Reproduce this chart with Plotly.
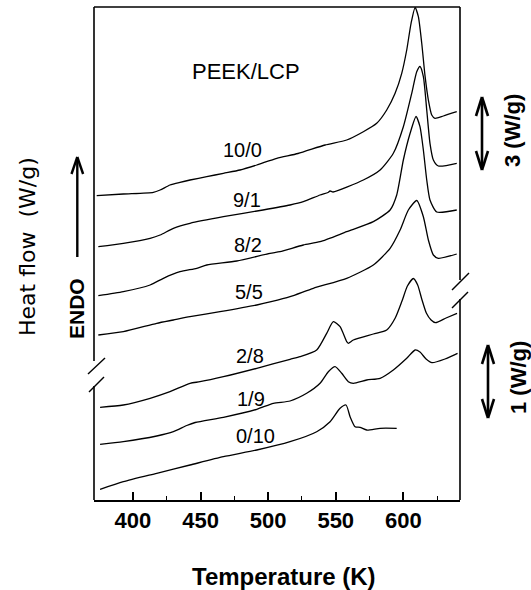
import plotly.graph_objects as go

# ---------------- data (temperature K, heat flow offset units) ----------------
t_10_0 = [373.2, 392.9, 415.1, 420.1, 427.4, 434.8, 442.2, 454.6, 466.9, 479.2, 491.6, 506.4, 522.1, 542.1,
          558.1, 570.4, 580.3, 587.7, 593.9, 598.8, 602.5, 605.7, 608.7, 611.1, 613.6, 616.1, 618.5, 621.0,
          623.4, 629.6, 639.5]
hf_10_0 = [30.43, 30.60, 30.77, 31.00, 31.50, 31.77, 32.00, 32.33, 32.67, 33.00, 33.50, 34.17, 34.65, 35.5,
           36.0, 36.83, 37.67, 39.0, 40.67, 42.67, 45.0, 47.67, 49.25, 48.33, 45.67, 42.33, 40.0, 38.5,
           38.17, 38.4, 38.83]

t_9_1 = [374.4, 392.9, 412.7, 420.1, 429.9, 442.2, 466.9, 496.2, 516.2, 526.0, 538.4, 544.3, 545.8, 548.0,
         570.4, 582.8, 592.6, 600.0, 606.2, 609.9, 612.3, 614.8, 617.3, 619.7, 622.2, 625.9, 639.5]
hf_9_1 = [25.33, 25.67, 26.17, 26.5, 27.17, 27.67, 28.33, 29.0, 29.5, 29.83, 30.5, 30.75, 30.9, 30.8,
          32.0, 33.0, 34.67, 37.33, 40.67, 42.83, 43.35, 42.33, 39.0, 35.67, 34.0, 33.4, 33.67]

t_8_2 = [374.4, 392.9, 412.7, 422.5, 434.8, 447.2, 454.6, 476.8, 501.4, 508.8, 526.0, 538.4, 558.1, 577.8,
         590.2, 595.1, 600.0, 605.0, 609.4, 612.3, 614.8, 617.3, 619.7, 624.7, 639.5]
hf_8_2 = [20.43, 20.83, 21.5, 22.17, 22.83, 23.17, 23.5, 23.9, 24.67, 24.83, 25.5, 25.83, 26.83, 27.83,
          29.0, 30.5, 34.0, 36.67, 38.35, 37.33, 35.0, 32.0, 30.0, 28.8, 29.0]

t_5_5 = [374.4, 392.9, 417.6, 429.9, 442.2, 464.4, 491.6, 502.2, 516.2, 533.4, 558.1, 577.8, 590.2, 597.6,
         603.7, 609.9, 614.8, 618.5, 622.2, 625.9, 639.5]
hf_5_5 = [16.5, 16.83, 17.67, 18.0, 18.33, 18.83, 19.5, 19.83, 20.33, 21.17, 22.17, 23.5, 25.17, 27.0,
          29.0, 29.95, 28.33, 26.0, 24.5, 24.17, 24.6]

t_2_8 = [375.7, 392.9, 412.7, 427.4, 442.2, 449.6, 466.9, 491.6, 516.2, 523.6, 535.9, 543.3, 548.2, 553.2,
         558.1, 559.3, 563.0, 577.8, 587.7, 594.0, 599.0, 603.0, 607.4, 610.6, 613.6, 617.0, 620.5,
         623.8, 631.6, 639.7]
hf_2_8 = [9.27, 9.5, 10.17, 10.83, 11.67, 11.83, 12.33, 13.17, 14.07, 14.33, 15.0, 16.67, 17.83, 17.33,
          15.83, 15.67, 16.0, 16.6, 17.0, 18.2, 19.9, 21.4, 22.15, 21.5, 20.1, 18.7, 18.0,
          17.73, 18.2, 18.67]

t_1_9 = [375.7, 392.9, 417.6, 429.9, 439.8, 446.0, 466.9, 491.6, 503.9, 516.2, 528.5, 538.4, 544.5,
         549.5, 554.4, 559.3, 563.0, 572.9, 582.8, 592.6, 602.5, 608.7, 612.3, 616.8, 621.2, 630.8, 640.1]
hf_1_9 = [5.57, 5.83, 6.4, 6.83, 7.45, 7.75, 8.27, 9.07, 9.67, 9.9, 10.67, 11.67, 12.83,
          13.33, 12.67, 11.83, 11.67, 12.0, 12.17, 13.0, 14.17, 15.0, 14.8, 14.1, 13.73, 14.1, 14.67]

t_0_10 = [375.7, 392.9, 417.6, 442.2, 466.9, 491.6, 516.2, 535.9, 545.8, 553.2, 557.6, 560.6, 564.3,
          568.0, 572.9, 582.8, 595.1]
hf_0_10 = [1.07, 1.83, 2.67, 3.5, 4.33, 5.0, 5.83, 6.83, 7.83, 9.17, 9.5, 8.33, 7.33,
           7.27, 7.0, 7.17, 7.17]

series_names = ["10/0", "9/1", "8/2", "5/5", "2/8", "1/9", "0/10"]
series_t = [t_10_0, t_9_1, t_8_2, t_5_5, t_2_8, t_1_9, t_0_10]
series_hf = [hf_10_0, hf_9_1, hf_8_2, hf_5_5, hf_2_8, hf_1_9, hf_0_10]

major_ticks = [400, 450, 500, 550, 600]
minor_ticks = [425, 475, 525, 575, 625]

# ---------------- layout geometry ----------------
W, H = 531, 590
ML, MR, MT, MB = 94, 71, 7, 90
PW, PH = W - ML - MR, H - MT - MB


def PX(x):
    return (x - ML) / PW


def PY(y):
    return (H - MB - y) / PH


fig = go.Figure()
for name, tx, hy in zip(series_names, series_t, series_hf):
    fig.add_trace(go.Scatter(x=tx, y=hy, mode="lines", name=name,
                             line=dict(color="black", width=1.3, shape="spline", smoothing=0.6),
                             showlegend=False, hoverinfo="skip"))

shapes = []


def seg(x0, y0, x1, y1, w=1.6):
    shapes.append(dict(type="line", xref="paper", yref="paper",
                       x0=PX(x0), y0=PY(y0), x1=PX(x1), y1=PY(y1),
                       line=dict(color="black", width=w)))


# frame (with axis breaks)
seg(ML, MT, ML + PW, MT)
seg(ML, MT, ML, 361)
seg(ML, 386, ML, H - MB)
seg(ML + PW, MT, ML + PW, 280)
seg(ML + PW, 299, ML + PW, H - MB)
# break marks
seg(88, 374, 105, 358, 1.4)
seg(89, 392, 104, 377, 1.4)
seg(452, 290, 469, 273, 1.4)
seg(452, 308, 468, 292, 1.4)

# ENDO arrow
seg(77.3, 160, 77.3, 257, 2.4)
seg(77.3, 157, 71.5, 174, 2.4)
seg(77.3, 157, 83.1, 174, 2.4)
# upper scale double arrow
seg(482, 99, 482, 168, 2.6)
seg(482, 97, 476, 116, 2.6)
seg(482, 97, 488, 116, 2.6)
seg(482, 170, 476, 151, 2.6)
seg(482, 170, 488, 151, 2.6)
# lower scale double arrow
seg(488, 347, 488, 416, 2.6)
seg(488, 345, 482, 364, 2.6)
seg(488, 345, 494, 364, 2.6)
seg(488, 418, 482, 399, 2.6)
seg(488, 418, 494, 399, 2.6)

annotations = []


def txt(text, x, y, size, family="Liberation Sans, Arial, sans-serif", angle=0, bold=False):
    annotations.append(dict(text=("<b>%s</b>" % text) if bold else text,
                            xref="paper", yref="paper", x=PX(x), y=PY(y),
                            xanchor="center", yanchor="middle", showarrow=False, textangle=angle,
                            font=dict(family=family, size=size, color="black")))


txt("PEEK/LCP", 246, 72, 22)
label_pos = {"10/0": (242, 150), "9/1": (247, 200), "8/2": (248, 245), "5/5": (249, 292),
             "2/8": (250, 356), "1/9": (251, 399), "0/10": (255, 436)}
for name in series_names:
    lx, ly = label_pos[name]
    txt(name, lx, ly, 20)

txt("Heat flow  (W/g)", 27, 247, 22, family="DejaVu Sans, sans-serif", angle=-90)
txt("ENDO", 76, 309, 21, angle=-90, bold=True)
txt("3 (W/g)", 512, 131, 22, angle=-90, bold=True)
txt("1 (W/g)", 518, 378, 22, angle=-90, bold=True)
txt("Temperature (K)", 284, 576, 24, bold=True)

fig.update_layout(
    width=W, height=H, autosize=False,
    margin=dict(l=ML, r=MR, t=MT, b=MB, pad=0),
    paper_bgcolor="white", plot_bgcolor="white",
    shapes=shapes, annotations=annotations,
    xaxis=dict(range=[371.2, 641.9], tickmode="array", tickvals=major_ticks,
               ticktext=["<b>%d</b>" % v for v in major_ticks],
               ticks="inside", ticklen=8, tickwidth=1.6, tickcolor="black",
               minor=dict(tickmode="array", tickvals=minor_ticks, ticks="inside", ticklen=4,
                          tickwidth=1.4, tickcolor="black", showgrid=False),
               showline=True, linecolor="black", linewidth=1.6, mirror=False,
               showgrid=False, zeroline=False,
               tickfont=dict(family="Liberation Sans, Arial, sans-serif", size=22, color="black")),
    yaxis=dict(range=[0, 49.3], showticklabels=False, ticks="", showline=False,
               showgrid=False, zeroline=False),
)

fig.write_html("out.html", config={"displayModeBar": False},
               post_script="document.body.style.margin='0';document.body.style.padding='0';")
